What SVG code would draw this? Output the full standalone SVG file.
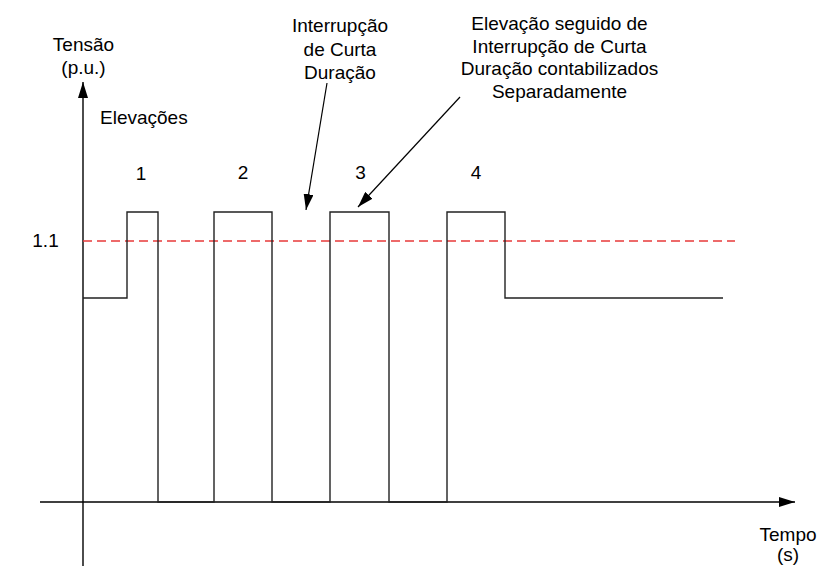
<svg xmlns="http://www.w3.org/2000/svg" width="821" height="567" viewBox="0 0 821 567">
<style>
text{font-family:"Liberation Sans",Arial,sans-serif;font-size:19px;fill:#000}
.c{text-anchor:middle}
.ax{stroke:#000;stroke-width:1.4;fill:none}
.wave{stroke:#222;stroke-width:1.4;fill:none}
.lim{stroke:#e83a3a;stroke-width:1.3;stroke-dasharray:9 5;fill:none}
.ptr{stroke:#000;stroke-width:1.2;fill:none}
</style>
<defs>
<marker id="ah" viewBox="0 0 16 10" refX="16" refY="5" markerWidth="16" markerHeight="10" markerUnits="userSpaceOnUse" orient="auto">
<path d="M0,0 L16,5 L0,10 z" fill="#000"/>
</marker>
</defs>
<rect width="821" height="567" fill="#fff"/>
<g id="axes">
<line class="ax" x1="83" y1="566" x2="83" y2="82" marker-end="url(#ah)"/>
<line class="ax" x1="40" y1="502" x2="795" y2="502" marker-end="url(#ah)"/>
</g>
<g id="limit">
<line class="lim" x1="83" y1="241" x2="735" y2="241"/>
</g>
<g id="waveform">
<polyline class="wave" points="83,298 127,298 127,212 158,212 158,502 214,502 214,212 272,212 272,502 330,502 330,212 389,212 389,502 447,502 447,212 505,212 505,298 723,298"/>
</g>
<g id="connectors">
<line class="ptr" x1="327" y1="83" x2="306" y2="210" marker-end="url(#ah)"/>
<line class="ptr" x1="460" y1="97" x2="358" y2="207" marker-end="url(#ah)"/>
</g>
<g id="labels">
<text class="c" x="83.5" y="51">Tensão</text>
<text class="c" x="83.5" y="74">(p.u.)</text>
<text x="100" y="124">Elevações</text>
<text class="c" x="141" y="180">1</text>
<text class="c" x="243" y="179">2</text>
<text class="c" x="360.5" y="179">3</text>
<text class="c" x="476" y="179">4</text>
<text class="c" x="45.5" y="247">1.1</text>
<text class="c" x="788" y="541">Tempo</text>
<text class="c" x="788" y="561">(s)</text>
</g>
<g id="note-interrupcao">
<text class="c" x="340" y="32">Interrupção</text>
<text class="c" x="340" y="55.5">de Curta</text>
<text class="c" x="340" y="79">Duração</text>
</g>
<g id="note-elevacao">
<text class="c" x="559.5" y="30">Elevação seguido de</text>
<text class="c" x="559.5" y="52.5">Interrupção de Curta</text>
<text class="c" x="559.5" y="75">Duração contabilizados</text>
<text class="c" x="559.5" y="97.5">Separadamente</text>
</g>
</svg>
